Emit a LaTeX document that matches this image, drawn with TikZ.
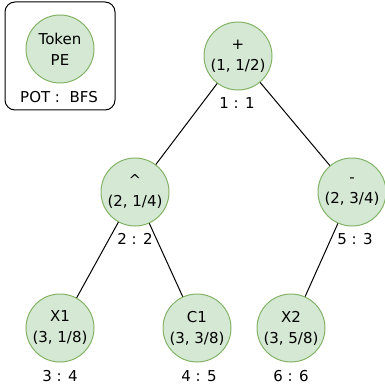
\documentclass[tikz,border=0pt]{standalone}
\usepackage{fontspec}
\setmainfont{DejaVu Sans}
\usetikzlibrary{positioning}
\definecolor{pefill}{HTML}{D5E8D4}
\definecolor{pedraw}{HTML}{82B366}
\tikzset{pe/.style = {draw=pedraw, fill=pefill, circle, line width=1pt, inner sep=0,
                      minimum size=68, align=center, font=\fontsize{15}{21}\selectfont}}
\tikzset{ord/.style = {font=\fontsize{15}{18}\selectfont}}
\tikzset{edge/.style = {line width=1pt}}

\begin{document}
\begin{tikzpicture}[x=1pt, y=-1pt]
      \useasboundingbox (0, 0) rectangle (385, 385);
      % legend
      \node [draw, rounded corners=10, line width=1pt, minimum width=110, minimum height=108] (key) at (60, 56) {};
      \node [pe] (tok) at (60, 49) {Token\\PE};
      \node [ord] (pot) at (59, 97) {POT :\ \ BFS};
      % tree
      \node [pe] (root) at (238, 56) {+\\(1, 1/2)};
      \node [pe] (caret) at (135, 192) {\textasciicircum\\(2, 1/4)};
      \node [pe] (minus) at (352, 192) {-\\(2, 3/4)};
      \node [pe] (xone) at (60, 328) {X1\\(3, 1/8)};
      \node [pe] (cone) at (197, 328) {C1\\(3, 3/8)};
      \node [pe] (xtwo) at (291, 328) {X2\\(3, 5/8)};
      \node [ord] (oroot) at (237, 103) {1 : 1};
      \node [ord] (ocaret) at (135, 239) {2 : 2};
      \node [ord] (ominus) at (355, 239) {5 : 3};
      \node [ord] (oxone) at (60, 376) {3 : 4};
      \node [ord] (ocone) at (199, 376) {4 : 5};
      \node [ord] (oxtwo) at (291, 376) {6 : 6};
      \draw [edge] (root) -- (caret);
      \draw [edge] (root) -- (minus);
      \draw [edge] (caret) -- (xone);
      \draw [edge] (caret) -- (cone);
      \draw [edge] (minus) -- (xtwo);
\end{tikzpicture}
\end{document}
